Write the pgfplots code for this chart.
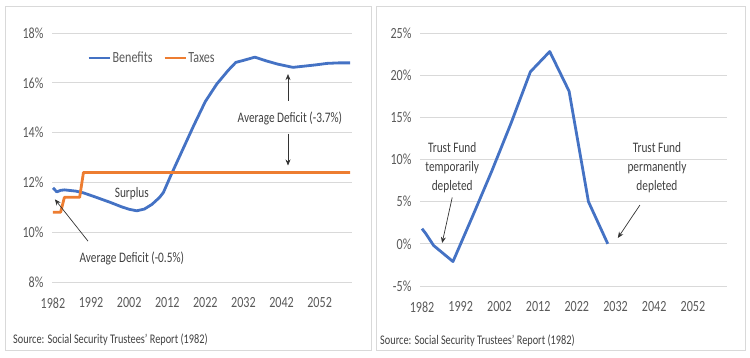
\documentclass[border=0pt]{standalone}
\usepackage{fontspec}
\setmainfont{Carlito}[FakeStretch=0.78]
\usepackage{pgfplots}
\pgfplotsset{compat=1.18}
\usetikzlibrary{arrows.meta}
\definecolor{sblue}{HTML}{4472C4}
\definecolor{sorange}{HTML}{ED7D31}
\definecolor{gridc}{HTML}{D9D9D9}
\definecolor{ticktext}{HTML}{595959}
\definecolor{anntext}{HTML}{404040}
\newcommand{\tickfont}{\fontsize{15.5}{18}\selectfont}
\newcommand{\annfont}{\fontsize{14.5}{17}\selectfont}
\newcommand{\srcfont}{\fontsize{13.2}{15}\selectfont}
\pgfplotsset{
  panel/.style={
    scale only axis, anchor=south west, clip=false,
    axis line style={draw=none}, tick style={draw=none},
    ymajorgrids, major grid style={gridc, line width=1pt},
    /pgf/number format/assume math mode=true,
    xtick={1982,1992,2002,2012,2022,2032,2042,2052},
    xticklabel style={/pgf/number format/1000 sep={}, font=\tickfont, text=ticktext, anchor=north, yshift=-12pt},
    yticklabel style={font=\tickfont, text=ticktext, anchor=east, xshift=-5pt},
    yticklabel={\pgfmathprintnumber{\tick}\%},
  }
}
\begin{document}
\begin{tikzpicture}
\path[use as bounding box] (0pt,0pt) rectangle (750pt,357pt);
\draw[gridc, line width=1pt] (5pt,7pt) rectangle (371pt,350pt);
\draw[gridc, line width=1pt] (376pt,7pt) rectangle (745pt,350pt);
\node[anchor=west, font=\srcfont, text=anntext, inner sep=0pt] at (13pt,17pt) {Source: Social Security Trustees' Report (1982)};
\node[anchor=west, font=\srcfont, text=anntext, inner sep=0pt] at (380pt,16pt) {Source: Social Security Trustees' Report (1982)};

\begin{axis}[panel, at={(52pt,75pt)}, width=300pt, height=249pt,
  xmin=1981.74, xmax=2060.5, ymin=8, ymax=18, ytick={8,10,12,14,16,18},
  legend style={draw=none, fill=none, legend columns=2, at={(0.117,0.9)}, anchor=west,
    font=\tickfont, text=ticktext, inner sep=0pt,
    /tikz/every even column/.append style={column sep=9pt},
    nodes={inner sep=1.5pt}},
  legend image code/.code={\draw[#1, line width=2.8pt] (0pt,0pt) -- (21pt,0pt);},
]
\addplot[sblue, line width=2.8pt, line join=round] coordinates {
(1982,11.78) (1983,11.62) (1984,11.68) (1985,11.70) (1988,11.65) (1990,11.58)
(1993,11.42) (1997,11.20) (2000,11.02) (2002,10.92) (2004,10.86) (2006,10.93)
(2008,11.12) (2010,11.40) (2011,11.60) (2013,12.30) (2016,13.30) (2019,14.30)
(2022,15.25) (2025,15.95) (2028,16.50) (2030,16.82) (2032,16.90) (2035,17.03)
(2038,16.88) (2041,16.75) (2045,16.62) (2048,16.67) (2051,16.72) (2054,16.78)
(2057,16.80) (2060,16.80)};
\addlegendentry{Benefits}
\addplot[sorange, line width=2.8pt, line join=round] coordinates {
(1982,10.8) (1983,10.8) (1984,10.8) (1985,11.4) (1986,11.4) (1987,11.4) (1988,11.4)
(1989,11.4) (1990,12.4) (2000,12.4) (2020,12.4) (2040,12.4) (2060,12.4)};
\addlegendentry{Taxes}
\node[fill=white, font=\annfont, text=anntext, inner sep=2pt] at (axis cs:2044.2,14.56) {Average Deficit (-3.7\%)};
\draw[-{Stealth[length=6pt,width=5pt]}, black!80, line width=0.7pt] (axis cs:2043.7,15.28) -- (axis cs:2043.7,16.35);
\draw[-{Stealth[length=6pt,width=5pt]}, black!80, line width=0.7pt] (axis cs:2043.7,13.96) -- (axis cs:2043.7,12.68);
\node[font=\annfont, text=anntext] at (axis cs:2002.7,11.56) {Surplus};
\node[font=\annfont, text=anntext] at (axis cs:2002.7,8.96) {Average Deficit (-0.5\%)};
\draw[-{Stealth[length=6pt,width=5pt]}, black!80, line width=0.7pt] (axis cs:1991.2,9.64) -- (axis cs:1982.5,11.32);
\end{axis}

\begin{axis}[panel, at={(420pt,71pt)}, width=307pt, height=253pt,
  xmin=1981.48, xmax=2060.8, ymin=-5, ymax=25, ytick={-5,0,5,10,15,20,25},
]
\addplot[sblue, line width=2.8pt, line join=round] coordinates {
(1982,1.8) (1983,1.2) (1985,-0.2) (1990,-2.1) (1995,3.2) (2000,8.6) (2005,14.3)
(2010,20.4) (2015,22.8) (2020,18.1) (2025,5.0) (2030,0.0)};
\node[font=\annfont, text=anntext, align=center, inner sep=0pt] at (axis cs:1989.8,9.0) {Trust Fund\\[2pt]temporarily\\[2pt]depleted};
\node[font=\annfont, text=anntext, align=center, inner sep=0pt] at (axis cs:2042.7,9.0) {Trust Fund\\[2pt]permanently\\[2pt]depleted};
\draw[-{Stealth[length=6pt,width=5pt]}, black!80, line width=0.7pt] (axis cs:1989.8,5.5) -- (axis cs:1987.2,0.1);
\draw[-{Stealth[length=6pt,width=5pt]}, black!80, line width=0.7pt] (axis cs:2038.3,4.6) -- (axis cs:2032.6,0.7);
\end{axis}
\end{tikzpicture}
\end{document}
